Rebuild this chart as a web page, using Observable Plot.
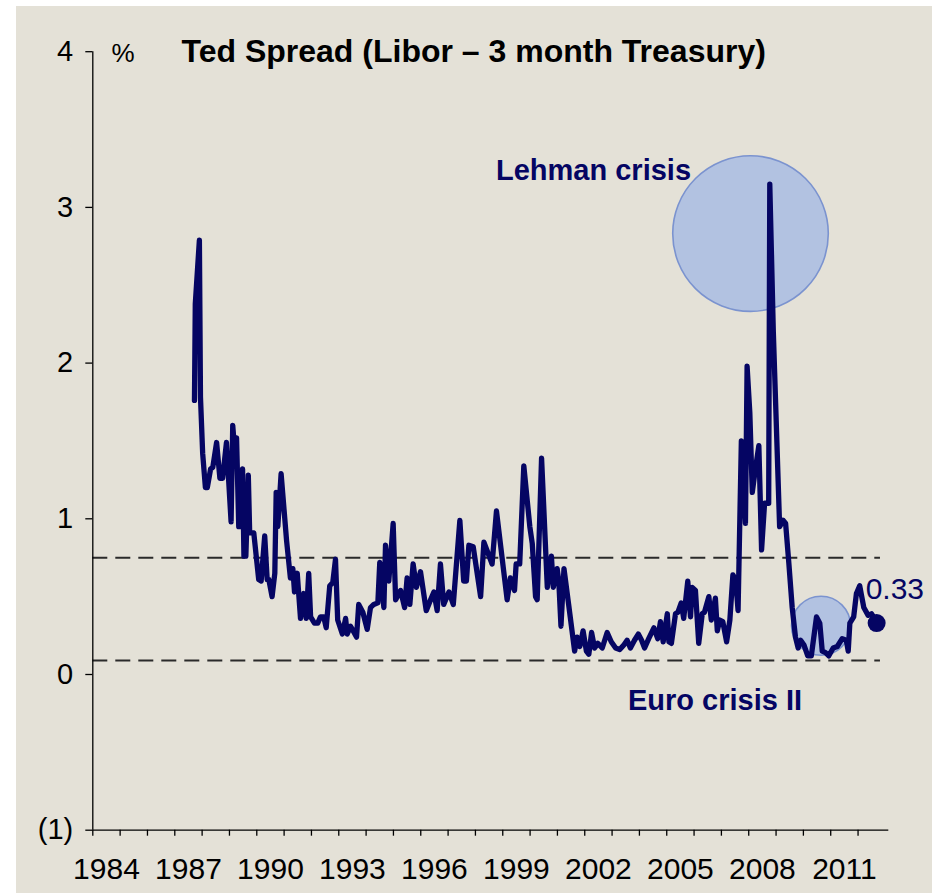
<!DOCTYPE html>
<html>
<head>
<meta charset="utf-8">
<script src="https://cdn.jsdelivr.net/npm/d3@7"></script>
<script src="https://cdn.jsdelivr.net/npm/@observablehq/plot@0.6"></script>
<style>
  html, body { margin: 0; padding: 0; background: #ffffff; }
  #panel { position: absolute; left: 16px; top: 6px; width: 916px; height: 887px; background: #e4e1d7; overflow: hidden; }
  #panel svg { position: absolute; left: -16px; top: -6px; max-width: none !important; width: 940px !important; height: 893px !important; }
</style>
</head>
<body>
<div id="panel"></div>
<script>
// TED spread: 3-month Libor minus 3-month Treasury bill, in percentage points
const dates = [
  1987.72, 1987.75, 1987.90, 1987.94, 1988.02, 1988.12, 1988.19, 1988.31, 1988.39, 1988.53,
  1988.65, 1988.75, 1988.89, 1989.06, 1989.12, 1989.20, 1989.26, 1989.34, 1989.40, 1989.48,
  1989.53, 1989.60, 1989.69, 1989.74, 1989.89, 1990.07, 1990.16, 1990.29, 1990.38, 1990.44,
  1990.56, 1990.66, 1990.71, 1990.77, 1990.89, 1991.09, 1991.23, 1991.32, 1991.38, 1991.48,
  1991.60, 1991.72, 1991.81, 1991.90, 1991.97, 1992.11, 1992.23, 1992.33, 1992.45, 1992.54,
  1992.67, 1992.78, 1992.88, 1992.96, 1993.13, 1993.25, 1993.31, 1993.43, 1993.53, 1993.65,
  1993.73, 1993.88, 1994.04, 1994.16, 1994.28, 1994.43, 1994.50, 1994.65, 1994.71, 1994.83,
  1994.99, 1995.08, 1995.26, 1995.41, 1995.50, 1995.60, 1995.72, 1995.84, 1995.99, 1996.20,
  1996.36, 1996.48, 1996.60, 1996.72, 1996.84, 1997.03, 1997.19, 1997.43, 1997.57, 1997.67,
  1997.76, 1997.92, 1998.19, 1998.31, 1998.61, 1998.77, 1999.16, 1999.28, 1999.43, 1999.49,
  1999.62, 1999.77, 1999.99, 2000.08, 2000.20, 2000.26, 2000.42, 2000.63, 2000.78, 2000.85,
  2000.99, 2001.05, 2001.13, 2001.24, 2001.41, 2001.63, 2001.72, 2001.82, 2001.94, 2002.06,
  2002.15, 2002.25, 2002.36, 2002.48, 2002.64, 2002.82, 2002.97, 2003.13, 2003.28, 2003.43,
  2003.55, 2003.67, 2003.82, 2003.96, 2004.08, 2004.19, 2004.34, 2004.53, 2004.67, 2004.77,
  2004.87, 2005.02, 2005.08, 2005.17, 2005.32, 2005.41, 2005.53, 2005.62, 2005.77, 2005.87,
  2005.93, 2006.05, 2006.17, 2006.30, 2006.38, 2006.54, 2006.63, 2006.78, 2006.85, 2006.94,
  2007.05, 2007.19, 2007.31, 2007.42, 2007.52, 2007.61, 2007.73, 2007.88, 2007.94, 2008.04,
  2008.13, 2008.22, 2008.37, 2008.47, 2008.58, 2008.73, 2008.77, 2008.90, 2009.13, 2009.26,
  2009.35, 2009.47, 2009.59, 2009.71, 2009.81, 2009.90, 2010.02, 2010.16, 2010.29, 2010.48,
  2010.60, 2010.69, 2010.81, 2010.93, 2011.09, 2011.24, 2011.42, 2011.57, 2011.64, 2011.70,
  2011.84, 2011.94, 2012.06, 2012.21, 2012.37, 2012.49, 2012.64, 2012.68
];
const spread = [
  1.76, 2.38, 2.79, 1.78, 1.42, 1.20, 1.20, 1.32, 1.33, 1.49,
  1.26, 1.26, 1.49, 0.98, 1.60, 1.42, 1.52, 0.95, 0.95, 1.32,
  0.76, 0.76, 1.28, 0.91, 0.91, 0.61, 0.60, 0.89, 0.61, 0.61,
  0.50, 0.65, 1.17, 0.95, 1.29, 0.86, 0.62, 0.68, 0.53, 0.65,
  0.36, 0.52, 0.36, 0.65, 0.37, 0.33, 0.33, 0.37, 0.37, 0.30,
  0.57, 0.59, 0.74, 0.35, 0.26, 0.36, 0.26, 0.31, 0.28, 0.24,
  0.45, 0.40, 0.29, 0.43, 0.45, 0.46, 0.72, 0.43, 0.83, 0.60,
  0.97, 0.48, 0.54, 0.43, 0.62, 0.45, 0.71, 0.56, 0.66, 0.41,
  0.48, 0.53, 0.41, 0.71, 0.45, 0.53, 0.45, 0.99, 0.60, 0.60,
  0.83, 0.82, 0.50, 0.85, 0.71, 1.05, 0.48, 0.62, 0.54, 0.71,
  0.71, 1.34, 0.95, 0.84, 0.50, 0.48, 1.39, 0.56, 0.76, 0.56,
  0.68, 0.60, 0.31, 0.68, 0.45, 0.15, 0.24, 0.18, 0.28, 0.15,
  0.13, 0.27, 0.17, 0.20, 0.17, 0.27, 0.21, 0.17, 0.16, 0.19,
  0.22, 0.17, 0.22, 0.26, 0.22, 0.17, 0.23, 0.30, 0.23, 0.34,
  0.21, 0.39, 0.21, 0.20, 0.39, 0.40, 0.46, 0.36, 0.60, 0.37,
  0.56, 0.54, 0.20, 0.39, 0.40, 0.50, 0.35, 0.49, 0.28, 0.35,
  0.34, 0.21, 0.35, 0.64, 0.61, 0.41, 1.50, 0.97, 1.98, 1.68,
  1.17, 1.29, 1.47, 0.80, 1.10, 1.10, 3.15, 2.20, 0.95, 0.99,
  0.97, 0.71, 0.43, 0.24, 0.17, 0.22, 0.19, 0.12, 0.12, 0.37,
  0.33, 0.15, 0.14, 0.12, 0.17, 0.18, 0.23, 0.22, 0.15, 0.33,
  0.37, 0.52, 0.57, 0.43, 0.38, 0.39, 0.35, 0.33
];

// Reference levels drawn as dashed lines
const referenceLevels = [0.75, 0.09];

// Axis ticks and labels
const yTicks = [-1, 0, 1, 2, 3, 4];
const yearTicks = d3.range(1984, 2013);
const yearLabels = [1984, 1987, 1990, 1993, 1996, 1999, 2002, 2005, 2008, 2011];

// Highlighted episodes
const episodeNames = ["Lehman crisis", "Euro crisis II"];
const episodeCentreDates = [2008.065, 2010.645];
const episodeCentreLevels = [2.832, 0.313];
const episodeRadii = [77.8, 29.5];
const episodeLabelDates = [2002.32, 2006.766];
const episodeLabelLevels = [3.173, -0.231];

const titleText = "Ted Spread (Libor \u2013 3 month Treasury)";
const unitText = "%";

const series = dates.map((d, i) => ({date: d, value: spread[i]}));
const episodes = episodeNames.map((name, i) => ({
  name,
  date: episodeCentreDates[i],
  level: episodeCentreLevels[i],
  radius: episodeRadii[i],
  labelDate: episodeLabelDates[i],
  labelLevel: episodeLabelLevels[i]
}));
const latest = series[series.length - 1];

const navy = "#050563";
const font = "'Liberation Sans', Arial, Helvetica, sans-serif";
const fmtY = d => d < 0 ? `(${-d})` : String(d);

const chart = Plot.plot({
  width: 940,
  height: 893,
  marginLeft: 92.3,
  marginRight: 51.7,
  marginTop: 51.2,
  marginBottom: 63.3,
  x: {domain: [1984, 2013.125]},
  y: {domain: [-1, 4]},
  r: {type: "identity"},
  style: {background: "transparent", fontFamily: font, color: "#000", overflow: "visible"},
  marks: [
    // shaded circles behind the series
    Plot.dot(episodes, {x: "date", y: "level", r: "radius", fill: "#b2c2e1", stroke: "#7b93cf", strokeWidth: 1.6}),
    // dashed reference levels
    Plot.ruleY(referenceLevels, {x1: 1984, x2: 2012.82, stroke: "#2a2a2a", strokeWidth: 2, strokeDasharray: "15,8"}),
    // axes
    Plot.axisY({ticks: yTicks, tickSize: 7, tickPadding: 12.6, fontSize: 29, tickFormat: fmtY, label: null, strokeWidth: 1.3}),
    Plot.axisX({ticks: yearTicks, tickSize: 6, tickFormat: () => "", label: null, strokeWidth: 1.3}),
    Plot.axisX({ticks: yearLabels.map(y => y + 0.5), tickSize: 0, tickPadding: 27.6, fontSize: 30, tickFormat: d => String(Math.floor(d)), label: null}),
    Plot.ruleX([1984], {y1: -1, y2: 4, stroke: "#000", strokeWidth: 1.3}),
    Plot.ruleY([-1], {x1: 1984, x2: 2013.125, stroke: "#000", strokeWidth: 1.3}),
    // the spread
    Plot.line(series, {x: "date", y: "value", stroke: navy, strokeWidth: 5.3, strokeLinejoin: "round", strokeLinecap: "round"}),
    // latest reading
    Plot.dot([latest], {x: "date", y: "value", r: 9, fill: navy}),
    Plot.text([latest], {x: "date", y: "value", text: d => d.value.toFixed(2), textAnchor: "start", lineAnchor: "bottom", dx: -11, dy: -24.6, fontSize: 30, fill: navy}),
    // episode labels
    Plot.text(episodes, {x: "labelDate", y: "labelLevel", text: "name", textAnchor: "middle", lineAnchor: "bottom", fontSize: 29, fontWeight: "bold", fill: navy}),
    // title and unit
    Plot.text([titleText], {frameAnchor: "top-left", textAnchor: "start", lineAnchor: "bottom", dx: 88.7, dy: 10.5, fontSize: 32, fontWeight: "bold", fill: "#000"}),
    Plot.text([unitText], {frameAnchor: "top-left", textAnchor: "start", lineAnchor: "bottom", dx: 18.7, dy: 10.5, fontSize: 26, fill: "#000"})
  ]
});

document.getElementById("panel").appendChild(chart);
</script>
</body>
</html>
